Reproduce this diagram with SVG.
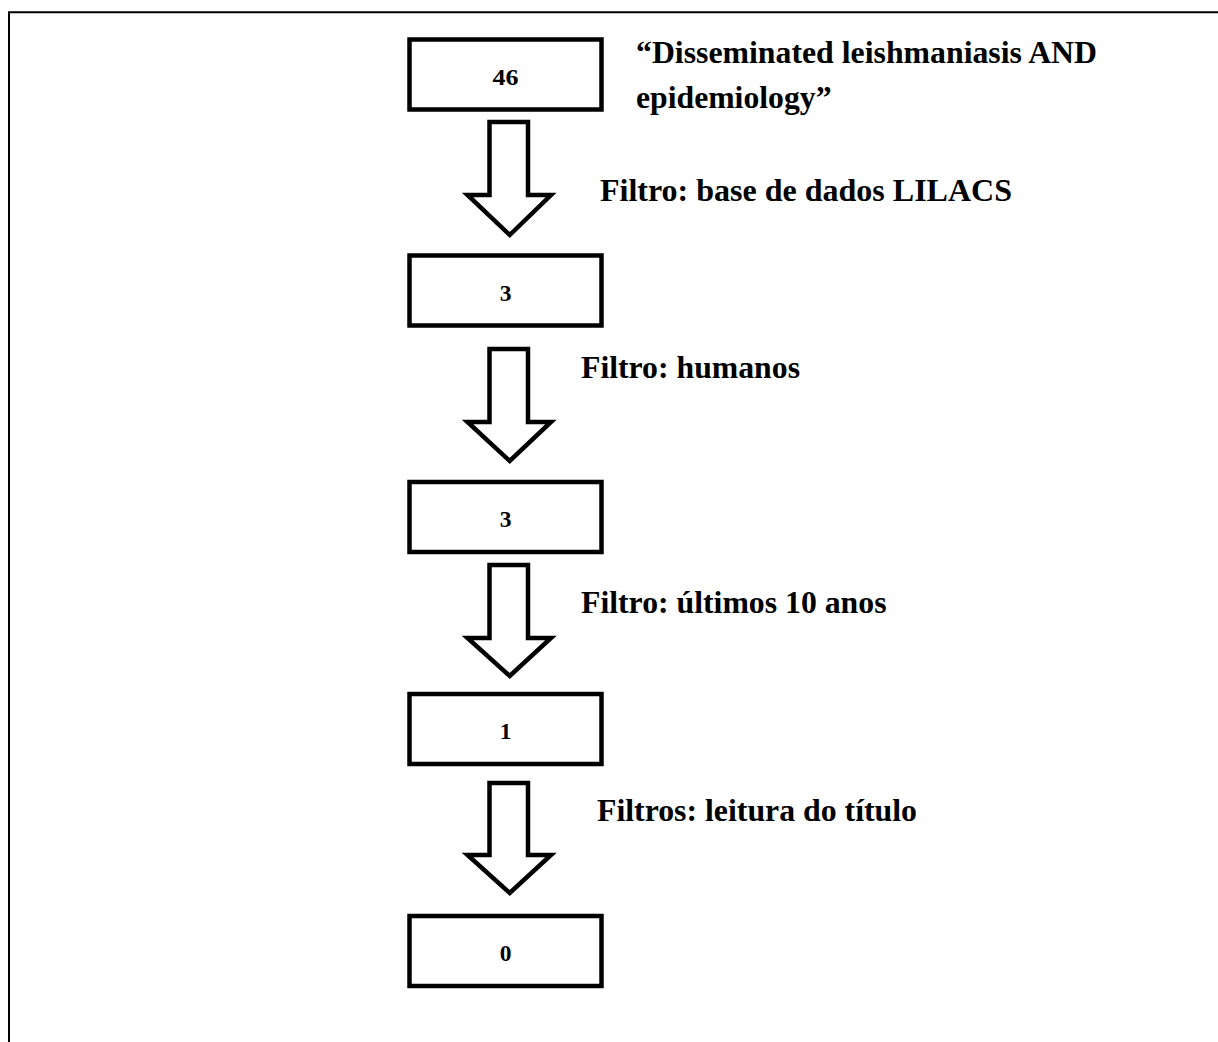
<svg xmlns="http://www.w3.org/2000/svg" width="1218" height="1042" viewBox="0 0 1218 1042">
<style>
.box{fill:#fff;stroke:#000;stroke-width:4.5}
.arr{fill:#fff;stroke:#000;stroke-width:4.5;stroke-linejoin:miter;stroke-miterlimit:10}
.num{font-family:"Liberation Serif","Times New Roman",serif;font-weight:bold;font-size:23.5px;text-anchor:middle;fill:#000}
.lbl{font-family:"Liberation Serif","Times New Roman",serif;font-weight:bold;font-size:30.5px;fill:#000}
.frame{stroke:#000;stroke-width:2;fill:none}
</style>
<rect width="1218" height="1042" fill="#fff"/>
<g id="frame">
<path class="frame" d="M9,1042 V12.3 H1218"/>
</g>
<g id="connectors">
<path class="arr" d="M489.5,122 H528 V195 H551 L509.75,235 L467.5,195 H489.5 Z"/>
<path class="arr" d="M489.5,349 H528 V422 H551 L509.75,461 L467.5,422 H489.5 Z"/>
<path class="arr" d="M489.5,565 H528 V638 H551 L509.75,676 L467.5,638 H489.5 Z"/>
<path class="arr" d="M489.5,783 H528 V855 H551 L509.75,893 L467.5,855 H489.5 Z"/>
</g>
<g id="node1"><rect class="box" x="409.5" y="39.5" width="192" height="70"/><text class="num" x="505.5" y="85" textLength="26" lengthAdjust="spacingAndGlyphs">46</text></g>
<g id="node2"><rect class="box" x="409.5" y="255.5" width="192" height="70"/><text class="num" x="505.5" y="301">3</text></g>
<g id="node3"><rect class="box" x="409.5" y="482" width="192" height="70"/><text class="num" x="505.5" y="527">3</text></g>
<g id="node4"><rect class="box" x="409.5" y="694" width="192" height="70"/><text class="num" x="505.5" y="739">1</text></g>
<g id="node5"><rect class="box" x="409.5" y="916" width="192" height="70"/><text class="num" x="505.5" y="961">0</text></g>
<g id="labels">
<text class="lbl" x="636" y="63" textLength="461" lengthAdjust="spacingAndGlyphs">“Disseminated leishmaniasis AND</text>
<text class="lbl" x="636" y="108" textLength="195.5" lengthAdjust="spacingAndGlyphs">epidemiology”</text>
<text class="lbl" x="600" y="201" textLength="412" lengthAdjust="spacingAndGlyphs">Filtro: base de dados LILACS</text>
<text class="lbl" x="581" y="378" textLength="219" lengthAdjust="spacingAndGlyphs">Filtro: humanos</text>
<text class="lbl" x="581" y="613" textLength="305.5" lengthAdjust="spacingAndGlyphs">Filtro: últimos 10 anos</text>
<text class="lbl" x="597" y="821" textLength="320" lengthAdjust="spacingAndGlyphs">Filtros: leitura do título</text>
</g>
</svg>
